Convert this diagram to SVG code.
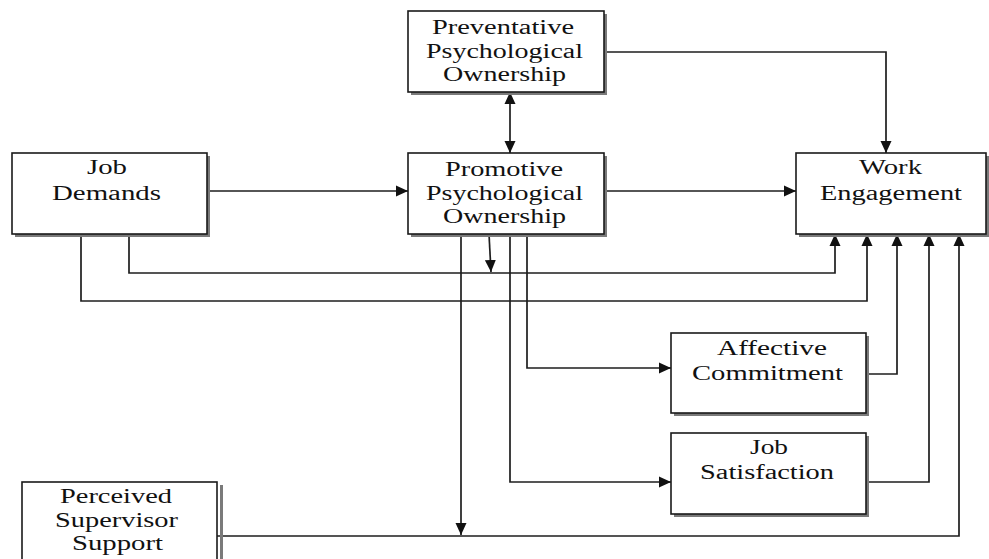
<svg xmlns="http://www.w3.org/2000/svg" width="989" height="559" viewBox="0 0 989 559">
  <style>
    .shadow { fill: #7a7a7a; }
    .box { fill: #ffffff; stroke: #1a1a1a; stroke-width: 1.6; }
    .label { font-size: 20.5px; fill: #111111; text-anchor: middle; }
    .conn { fill: none; stroke: #1e1e1e; stroke-width: 1.7; }
  </style>
  <defs>
    <marker id="arrow" markerUnits="userSpaceOnUse" markerWidth="14" markerHeight="14" refX="12" refY="7" orient="auto-start-reverse">
      <path d="M0,1.5 L12,7 L0,12.5 Z" fill="#111"/>
    </marker>
  </defs>

  <rect width="989" height="559" fill="#ffffff"/>

  <!-- connectors -->
  <g id="connectors">
    <path class="conn" d="M604,52 H886 V153" marker-end="url(#arrow)"/>
    <path class="conn" d="M510,92 V153" marker-start="url(#arrow)" marker-end="url(#arrow)"/>
    <path class="conn" d="M207,191 H408" marker-end="url(#arrow)"/>
    <path class="conn" d="M604,191 H796" marker-end="url(#arrow)"/>
    <path class="conn" d="M129,234 V273 H835 V234" marker-end="url(#arrow)"/>
    <path class="conn" d="M81,234 V301 H867 V234" marker-end="url(#arrow)"/>
    <path class="conn" d="M489,234 L491,272" marker-end="url(#arrow)"/>
    <path class="conn" d="M461,234 V535" marker-end="url(#arrow)"/>
    <path class="conn" d="M510,234 V482 H671" marker-end="url(#arrow)"/>
    <path class="conn" d="M527,234 V368 H671" marker-end="url(#arrow)"/>
    <path class="conn" d="M866,374 H897 V234" marker-end="url(#arrow)"/>
    <path class="conn" d="M866,482 H929 V234" marker-end="url(#arrow)"/>
    <path class="conn" d="M217,536 H959 V234" marker-end="url(#arrow)"/>
  </g>

  <g font-family="Liberation Serif, DejaVu Serif, serif">
    <g id="preventative-po">
      <rect class="shadow" x="411" y="14" width="196" height="81"/>
      <rect class="box" x="408" y="11" width="196" height="81"/>
      <text class="label" x="503" y="34" textLength="142" lengthAdjust="spacingAndGlyphs">Preventative</text>
      <text class="label" x="504.5" y="57.5" textLength="157" lengthAdjust="spacingAndGlyphs">Psychological</text>
      <text class="label" x="504.5" y="81" textLength="123" lengthAdjust="spacingAndGlyphs">Ownership</text>
    </g>

    <g id="promotive-po">
      <rect class="shadow" x="411" y="156" width="196" height="81"/>
      <rect class="box" x="408" y="153" width="196" height="81"/>
      <text class="label" x="504" y="176" textLength="118" lengthAdjust="spacingAndGlyphs">Promotive</text>
      <text class="label" x="504.5" y="199.5" textLength="157" lengthAdjust="spacingAndGlyphs">Psychological</text>
      <text class="label" x="504.5" y="223" textLength="123" lengthAdjust="spacingAndGlyphs">Ownership</text>
    </g>

    <g id="job-demands">
      <rect class="shadow" x="15" y="156" width="195" height="81"/>
      <rect class="box" x="12" y="153" width="195" height="81"/>
      <text class="label" x="107" y="174" textLength="40" lengthAdjust="spacingAndGlyphs">Job</text>
      <text class="label" x="106.5" y="200" textLength="109" lengthAdjust="spacingAndGlyphs">Demands</text>
    </g>

    <g id="work-engagement">
      <rect class="shadow" x="799" y="156" width="190" height="81"/>
      <rect class="box" x="796" y="153" width="190" height="81"/>
      <text class="label" x="890.5" y="174" textLength="63" lengthAdjust="spacingAndGlyphs">Work</text>
      <text class="label" x="891" y="200" textLength="142" lengthAdjust="spacingAndGlyphs">Engagement</text>
    </g>

    <g id="affective-commitment">
      <rect class="shadow" x="674" y="336" width="195" height="80"/>
      <rect class="box" x="671" y="333" width="195" height="80"/>
      <text class="label" x="772" y="355" textLength="110" lengthAdjust="spacingAndGlyphs">Affective</text>
      <text class="label" x="767.5" y="380" textLength="151" lengthAdjust="spacingAndGlyphs">Commitment</text>
    </g>

    <g id="job-satisfaction">
      <rect class="shadow" x="674" y="436" width="195" height="81"/>
      <rect class="box" x="671" y="433" width="195" height="81"/>
      <text class="label" x="769" y="454" textLength="38" lengthAdjust="spacingAndGlyphs">Job</text>
      <text class="label" x="767" y="479" textLength="134" lengthAdjust="spacingAndGlyphs">Satisfaction</text>
    </g>

    <g id="perceived-supervisor-support">
      <rect class="shadow" x="220" y="485" width="3" height="81"/>
      <rect class="box" x="22" y="482" width="195" height="81"/>
      <text class="label" x="116" y="503" textLength="112" lengthAdjust="spacingAndGlyphs">Perceived</text>
      <text class="label" x="116.5" y="527" textLength="123" lengthAdjust="spacingAndGlyphs">Supervisor</text>
      <text class="label" x="117.5" y="550" textLength="91" lengthAdjust="spacingAndGlyphs">Support</text>
    </g>
  </g>
</svg>
